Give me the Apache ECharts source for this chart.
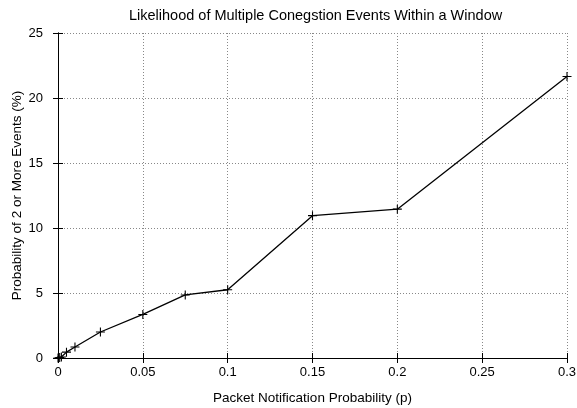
<!DOCTYPE html>
<html>
<head>
<meta charset="utf-8">
<style>
  html, body { margin: 0; padding: 0; background: #fff; }
  #chart { width: 577px; height: 408px; }
</style>
<script src="https://cdn.jsdelivr.net/npm/echarts@6/dist/echarts.min.js"></script>
</head>
<body>
<div id="chart"></div>
<script>
// Packet notification probability (p) and chance of 2+ congestion events (%)
const pValues = [0, 0.001, 0.002, 0.005, 0.01, 0.025, 0.05, 0.075, 0.1, 0.15, 0.2, 0.3];
const multiEventPct = [0, 0.03, 0.08, 0.45, 0.85, 2.0, 3.35, 4.85, 5.25, 10.95, 11.45, 21.65];

const xTickStep = 0.05;
const yTickStep = 5;

const font = '"Liberation Sans", Arial, Helvetica, sans-serif';
const plusMark = 'path://M0,4.4H10V5.6H0Z M4.4,0H5.6V10H4.4Z';

const points = pValues.map((p, i) => [p, multiEventPct[i]]);

const tickText = { color: '#000', fontFamily: font, fontSize: 13 };
const dottedGrid = { show: true, lineStyle: { color: '#888', type: [1, 2], width: 1 } };

const chart = echarts.init(document.getElementById('chart'), null, { renderer: 'canvas' });
chart.setOption({
  animation: false,
  backgroundColor: '#fff',
  title: {
    text: 'Likelihood of Multiple Conegstion Events Within a Window',
    left: 124,
    top: 3,
    textStyle: { fontFamily: font, fontSize: 14.5, fontWeight: 'normal', color: '#000' }
  },
  grid: { left: 58, right: 10, top: 33, bottom: 50, containLabel: false, outerBoundsMode: 'none' },
  xAxis: [{
    type: 'value',
    min: 0, max: 0.3, interval: xTickStep,
    name: 'Packet Notification Probability (p)',
    nameLocation: 'middle', nameGap: 33,
    nameMoveOverlap: false,
    nameTextStyle: { fontFamily: font, fontSize: 13.5, color: '#000' },
    axisLine: { show: true, onZero: false, lineStyle: { color: '#000', width: 1 } },
    axisTick: { show: true, inside: true, length: 5, lineStyle: { color: '#000' } },
    axisLabel: Object.assign({ margin: 8 }, tickText),
    splitLine: dottedGrid
  }, {
    type: 'value', position: 'top',
    min: 0, max: 0.3, interval: xTickStep,
    axisLine: { show: true, lineStyle: { color: '#000', width: 1 } },
    axisTick: { show: true, inside: true, length: 5, lineStyle: { color: '#000' } },
    axisLabel: { show: false },
    splitLine: { show: false }
  }],
  yAxis: [{
    type: 'value',
    min: 0, max: 25, interval: yTickStep,
    name: 'Probability of 2 or More Events (%)',
    nameLocation: 'middle', nameGap: 34,
    nameMoveOverlap: false,
    nameTextStyle: { fontFamily: font, fontSize: 13.5, color: '#000' },
    axisLine: { show: true, lineStyle: { color: '#000', width: 1 } },
    axisTick: { show: true, inside: true, length: 5, lineStyle: { color: '#000' } },
    axisLabel: Object.assign({ margin: 15 }, tickText),
    splitLine: dottedGrid
  }, {
    type: 'value', position: 'right',
    min: 0, max: 25, interval: yTickStep,
    axisLine: { show: true, lineStyle: { color: '#000', width: 1 } },
    axisTick: { show: true, inside: true, length: 5, lineStyle: { color: '#000' } },
    axisLabel: { show: false },
    splitLine: { show: false }
  }],
  series: [{
    type: 'line',
    data: points,
    xAxisIndex: 0,
    yAxisIndex: 0,
    symbol: plusMark,
    symbolSize: 9,
    showAllSymbol: true,
    clip: false,
    lineStyle: { color: '#000', width: 1.3 },
    itemStyle: { color: '#000' }
  }]
});
</script>
</body>
</html>
